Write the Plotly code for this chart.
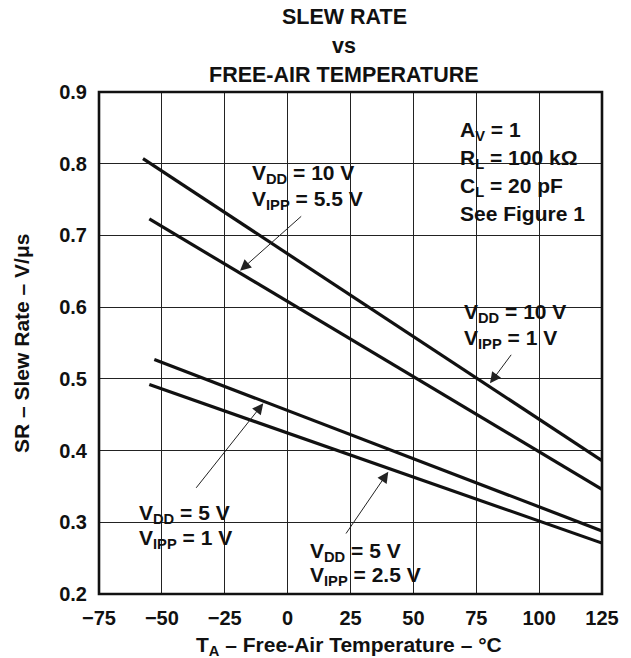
import plotly.graph_objects as go

# ---- data ----
temps_vdd10_vipp1 = [-57.5, 125]
sr_vdd10_vipp1 = [0.807, 0.386]
temps_vdd10_vipp55 = [-55, 125]
sr_vdd10_vipp55 = [0.723, 0.346]
temps_vdd5_vipp1 = [-53, 125]
sr_vdd5_vipp1 = [0.527, 0.288]
temps_vdd5_vipp25 = [-55, 125]
sr_vdd5_vipp25 = [0.492, 0.271]

x_tick_vals = [-75, -50, -25, 0, 25, 50, 75, 100, 125]
y_tick_vals = [0.2, 0.3, 0.4, 0.5, 0.6, 0.7, 0.8, 0.9]
y_tick_text = ["0.2", "0.3", "0.4", "0.5", "0.6", "0.7", "0.8", "0.9"]

# ---- layout geometry ----
W, H = 631, 658
L, R, T, B = 99, 29, 92, 64
PW, PH = W - L - R, H - T - B
XMIN, XMAX, YMIN, YMAX = -75, 125, 0.2, 0.9


def px_x(px):
    return (px - L) / PW


def px_y(py):
    return 1 - (py - T) / PH


def dx(px):
    return XMIN + (px - L) * (XMAX - XMIN) / PW


def dy(py):
    return YMAX - (py - T) * (YMAX - YMIN) / PH


FONT = "Liberation Sans, Arial, Helvetica, sans-serif"
INK = "#111111"

fig = go.Figure()
series = [
    (temps_vdd10_vipp1, sr_vdd10_vipp1),
    (temps_vdd10_vipp55, sr_vdd10_vipp55),
    (temps_vdd5_vipp1, sr_vdd5_vipp1),
    (temps_vdd5_vipp25, sr_vdd5_vipp25),
]
for xs, ys in series:
    fig.add_trace(go.Scatter(x=xs, y=ys, mode="lines",
                             line=dict(color=INK, width=3.2),
                             showlegend=False, hoverinfo="skip"))

# white gaps in the grid behind labels
gaps = [
    (233, 152, 378, 216),
    (449, 107, 586, 235),
    (433, 295, 586, 353),
    (120, 492, 260, 557),
    (300, 531, 432, 592),
    (345, 514, 356, 521),
    (483, 374, 510, 382),
]
shapes = []
for x0, y0, x1, y1 in gaps:
    shapes.append(dict(type="rect", xref="paper", yref="paper",
                       x0=px_x(x0), x1=px_x(x1), y0=px_y(y1), y1=px_y(y0),
                       fillcolor="white", line=dict(width=0), layer="between"))
shapes.append(dict(type="rect", xref="paper", yref="paper", x0=0, x1=1, y0=0, y1=1,
                   line=dict(color=INK, width=2.6), layer="above"))

# text lines: (text, left px, cap-centre px)
labels = [
    ("V<sub>DD</sub> = 10 V", 250, 170.5),
    ("V<sub>IPP</sub> = 5.5 V", 250, 196.5),
    ("A<sub>V</sub> = 1", 458, 128.3),
    ("R<sub>L</sub> = 100 kΩ", 458, 155.5),
    ("C<sub>L</sub> = 20 pF", 458, 184.2),
    ("See Figure 1", 458, 213.3),
    ("V<sub>DD</sub> = 10 V", 461.7, 309.5),
    ("V<sub>IPP</sub> = 1 V", 461.7, 335.5),
    ("V<sub>DD</sub> = 5 V", 136.7, 510.7),
    ("V<sub>IPP</sub> = 1 V", 136.7, 535.5),
    ("V<sub>DD</sub> = 5 V", 308.3, 549),
    ("V<sub>IPP</sub> = 2.5 V", 308.3, 572.5),
]
annotations = []
for txt, lx, cy in labels:
    sub = "<sub>" in txt
    annotations.append(dict(text=txt, xref="paper", yref="paper",
                            x=px_x(lx), y=px_y(cy), xanchor="left", yanchor="middle",
                            yshift=-3 if sub else 0,
                            showarrow=False,
                            font=dict(family=FONT, size=21, color=INK, weight="bold")))

# title lines: (text, centre px x, cap-centre px y)
title_lines = [
    ("SLEW RATE", 344, 16.7),
    ("vs", 344, 45.5),
    ("FREE-AIR TEMPERATURE", 344, 74.7),
]
for txt, cx, cy in title_lines:
    annotations.append(dict(text=txt, xref="paper", yref="paper",
                            x=px_x(cx), y=px_y(cy), xanchor="center", yanchor="middle",
                            showarrow=False,
                            font=dict(family=FONT, size=21.5, color=INK, weight="bold")))

# axis titles
annotations.append(dict(text="T<sub>A</sub> – Free-Air Temperature – °C",
                        xref="paper", yref="paper", x=px_x(349), y=px_y(642.5),
                        xanchor="center", yanchor="middle", yshift=-3, showarrow=False,
                        font=dict(family=FONT, size=21, color=INK, weight="bold")))
annotations.append(dict(text="SR – Slew Rate – V/μs", textangle=-90,
                        xref="paper", yref="paper", x=px_x(21), y=px_y(344),
                        xanchor="center", yanchor="middle", showarrow=False,
                        font=dict(family=FONT, size=21, color=INK, weight="bold")))

# arrows: (head px, tail px)
arrows = [
    ((240, 270.7), (302.7, 215)),
    ((490, 383.3), (512.3, 353.3)),
    ((263.3, 403.3), (195, 489.3)),
    ((388.3, 471.7), (345, 535)),
]
for (hx, hy), (tx, ty) in arrows:
    annotations.append(dict(text="", x=dx(hx), y=dy(hy), xref="x", yref="y",
                            ax=dx(tx), ay=dy(ty), axref="x", ayref="y",
                            showarrow=True, arrowhead=2, arrowsize=2.2,
                            arrowwidth=1, arrowcolor="#222222"))

fig.update_layout(
    width=W, height=H,
    margin=dict(l=L, r=R, t=T, b=B, pad=0),
    paper_bgcolor="white", plot_bgcolor="white",
    font=dict(family=FONT, color=INK, size=20, weight="bold"),
    xaxis=dict(range=[XMIN, XMAX], tickvals=x_tick_vals, showgrid=True,
               gridcolor="#222222", gridwidth=1, zeroline=False, showline=False,
               ticks="", ticklabelstandoff=10, automargin=False,
               tickfont=dict(family=FONT, size=20, color=INK, weight="bold")),
    yaxis=dict(range=[YMIN, YMAX], tickvals=y_tick_vals, ticktext=y_tick_text,
               showgrid=True, gridcolor="#222222", gridwidth=1, zeroline=False,
               showline=False, ticks="", ticklabelstandoff=11, automargin=False,
               tickfont=dict(family=FONT, size=20, color=INK, weight="bold")),
    shapes=shapes,
    annotations=annotations,
)

fig.write_html("out.html", config={"displayModeBar": False},
               post_script="document.body.style.margin='0';document.body.style.overflow='hidden';")
